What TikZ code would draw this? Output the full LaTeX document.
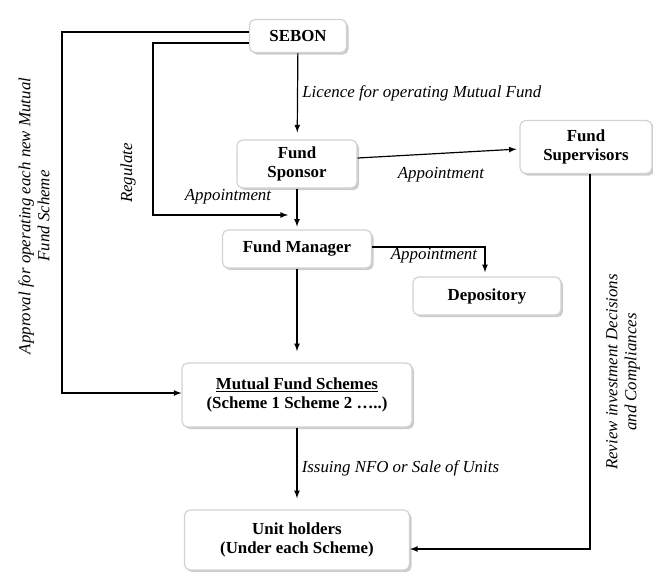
\documentclass[tikz,border=0pt]{standalone}
\usepackage{fontspec}
\setmainfont{Liberation Serif}
\usetikzlibrary{shadows}

\begin{document}
\begin{tikzpicture}[>=latex, line width=0.85pt,
  box/.style={draw=gray!35, fill=white, rounded corners=4pt, align=center,
    inner sep=1pt, font=\fontsize{12}{14}\selectfont\bfseries,
    drop shadow={shadow xshift=1.5pt, shadow yshift=-1.5pt, fill=gray!80}},
  lbl/.style={font=\fontsize{12}{14}\selectfont\itshape, inner sep=1pt},
  vlbl/.style={font=\fontsize{12}{13.5}\selectfont\itshape, rotate=90, align=center, inner sep=0pt}]
\useasboundingbox (0,0) rectangle (16.325,-14.375);

\node (SEBON) at (7.45,-0.9) [box, minimum width=2.425cm, minimum height=0.825cm]{SEBON};
\node (Sponsor) at (7.425,-4.1) [box, minimum width=3cm, minimum height=1.2cm]{Fund\\Sponsor};
\node (Supervisors) at (14.65,-3.675) [box, minimum width=3.3cm, minimum height=1.325cm]{Fund\\Supervisors};
\node (Manager) at (7.425,-6.225) [box, minimum width=3.725cm, minimum height=0.95cm]{Fund Manager};
\node (Depository) at (12.175,-7.4) [box, minimum width=3.7cm, minimum height=0.95cm]{Depository};
\node (Schemes) at (7.425,-9.875) [box, minimum width=5.75cm, minimum height=1.6cm]{\underline{Mutual Fund Schemes}\\(Scheme 1 Scheme 2 \dots..)};
\node (Unit) at (7.425,-13.5) [box, minimum width=5.625cm, minimum height=1.5cm]{Unit holders\\(Under each Scheme)};

\coordinate (appr) at (1.55,-9.825);
\coordinate (reg) at (3.825,-5.375);
\coordinate (regend) at (7.2,-5.375);

\draw [->, shorten >=5pt] (SEBON) -- node[lbl, right, xshift=2pt, yshift=2pt]{Licence for operating Mutual Fund} (Sponsor);
\draw [->] ([yshift=0.1cm]SEBON.west) -| (appr) -- (appr -| Schemes.west);
\draw [->] ([yshift=-0.175cm]SEBON.west) -| (reg) -- (regend);
\draw [->, shorten >=2pt] (Sponsor) -- (Manager);
\draw [->, shorten >=2pt] ([yshift=0.15cm]Sponsor.east) -- ([yshift=-0.05cm]Supervisors.west);
\draw [->, shorten >=3pt] ([yshift=0.05cm]Manager.east) -| ([xshift=-0.05cm]Depository.north);
\draw [->, shorten >=8pt] (Manager) -- (Schemes);
\draw [->, shorten >=8pt] (Schemes) -- node[lbl, right, xshift=2pt]{Issuing NFO or Sale of Units} (Unit);
\draw [->] ([xshift=0.1cm]Supervisors.south) |- ([yshift=-0.225cm]Unit.east);

\node (L-regulate) at (3.2,-4.325) [lbl, rotate=90]{Regulate};
\node (L-app1) at (5.7,-4.925) [lbl]{Appointment};
\node (L-app2) at (11.025,-4.375) [lbl]{Appointment};
\node (L-app3) at (10.85,-6.4) [lbl]{Appointment};
\node (L-approval) at (0.85,-5.4) [vlbl]{Approval for operating each new Mutual\\Fund Scheme};
\node (L-review) at (15.575,-9.3) [vlbl]{Review investment Decisions\\and Compliances};

\end{tikzpicture}
\end{document}
